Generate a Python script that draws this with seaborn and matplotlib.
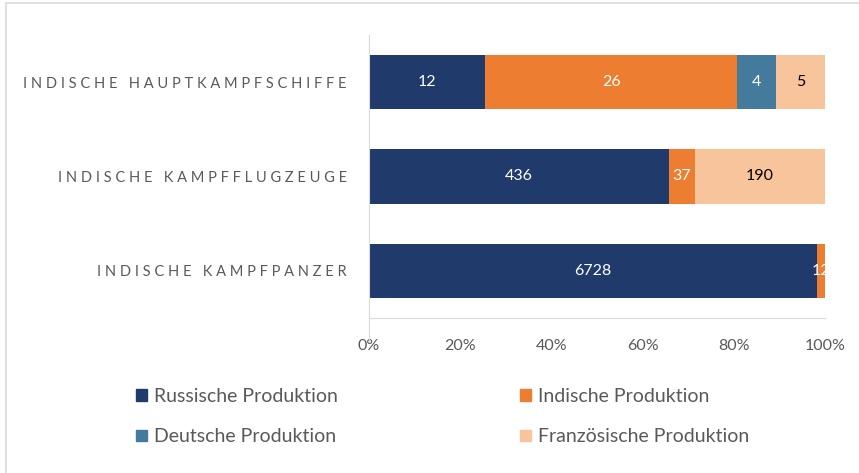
import matplotlib
matplotlib.use("Agg")
import matplotlib.pyplot as plt
import matplotlib.patches as mpatches
import pandas as pd
import seaborn as sns

# Kategorien und Serien
kategorien = ["INDISCHE HAUPTKAMPFSCHIFFE", "INDISCHE KAMPFFLUGZEUGE", "INDISCHE KAMPFPANZER"]
serien = ["Russische Produktion", "Indische Produktion", "Deutsche Produktion", "Französische Produktion"]

# Anteile in %
russisch = [25.5, 65.8, 98.2]
indisch = [55.3, 5.6, 1.8]
deutsch = [8.5, 0.0, 0.0]
franzoesisch = [10.7, 28.6, 0.0]

# Beschriftungen (Stückzahlen)
russisch_n = [12, 436, 6728]
indisch_n = [26, 37, 12]
deutsch_n = [4, None, None]
franzoesisch_n = [5, 190, None]

ticks = [0, 20, 40, 60, 80, 100]

FARBEN = ["#1F3A6B", "#ED7D31", "#447A9C", "#F8C49C"]
TEXTFARBE = ["white", "white", "white", "black"]
GRAU = "#595959"
LINIE = "#D9D9D9"

prozent = pd.DataFrame({"Russ": russisch, "Ind": indisch, "Deu": deutsch, "Fra": franzoesisch}, index=kategorien)
anzahl = pd.DataFrame({"Russ": russisch_n, "Ind": indisch_n, "Deu": deutsch_n, "Fra": franzoesisch_n}, index=kategorien)
kumuliert = prozent.cumsum(axis=1)

plt.rcParams['font.family'] = ['Lato', 'DejaVu Sans']
fig = plt.figure(figsize=(8.59, 4.73), dpi=100)
ax = fig.add_axes([369 / 859, 1 - 318 / 473, 456 / 859, 283 / 473])

# gestapelte Balken: kumulierte Summen von hinten nach vorne zeichnen
for i in reversed(range(len(serien))):
    df_plot = pd.DataFrame({"Kategorie": kategorien, "Wert": kumuliert.iloc[:, i].values})
    sns.barplot(data=df_plot, x="Wert", y="Kategorie", color=FARBEN[i], orient="h",
                width=0.575, ax=ax, saturation=1, edgecolor="none")

# Werte in die Mitte der Segmente schreiben
for i in range(len(serien)):
    for j, kat in enumerate(kategorien):
        wert = anzahl.iloc[j, i]
        if pd.isna(wert):
            continue
        mitte = kumuliert.iloc[j, i] - prozent.iloc[j, i] / 2
        ax.text(mitte, j, str(int(wert)), ha="center", va="center", fontsize=11.5, color=TEXTFARBE[i])

ax.set_xlim(0, 100)
ax.set_ylim(2.5, -0.5)
ax.set_xticks(ticks)
ax.set_xticklabels([f"{t}%" for t in ticks], color=GRAU, fontsize=11.5)
ax.set_yticks(range(len(kategorien)))
ax.set_yticklabels(["   ".join(" ".join(w) for w in k.split(" ")) for k in kategorien],
                   color=GRAU, fontsize=10.5)
ax.tick_params(axis="both", length=0)
ax.tick_params(axis="x", pad=15)
ax.tick_params(axis="y", pad=16)
ax.set_xlabel("")
ax.set_ylabel("")
for s in ["top", "right"]:
    ax.spines[s].set_visible(False)
ax.spines["left"].set_color(LINIE)
ax.spines["bottom"].set_color(LINIE)
ax.spines["left"].set_bounds(-0.5, 2.75)
ax.spines["left"].set_clip_on(False)

# Legende unter dem Diagramm (Reihenfolge zeilenweise)
reihenfolge = [0, 2, 1, 3]
handles = [mpatches.Patch(color=FARBEN[i], label=serien[i]) for i in reihenfolge]
fig.legend(handles=handles, ncol=2, loc="upper left", bbox_to_anchor=(136 / 859, 1 - 388 / 473),
           frameon=False, borderpad=0, borderaxespad=0,
           fontsize=14, labelcolor=GRAU, handlelength=0.55, handleheight=0.55, handletextpad=0.35,
           columnspacing=9.4, labelspacing=1.2)

# Rahmen um die Grafik
fig.patches.append(mpatches.Rectangle((6 / 859, -0.05), 1.1, 1 - 3 / 473 + 0.05, transform=fig.transFigure,
                                      fill=False, edgecolor=LINIE, linewidth=1.2))

fig.savefig("out.png", dpi=100)
plt.close()
